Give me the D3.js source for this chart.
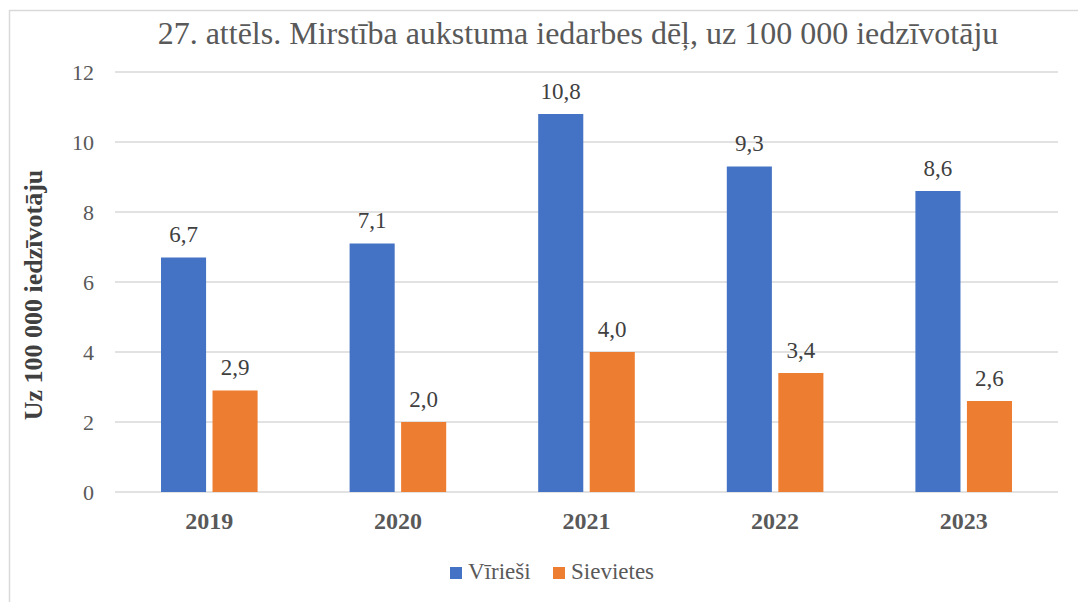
<!DOCTYPE html>
<html>
<head>
<meta charset="utf-8">
<script src="https://cdn.jsdelivr.net/npm/d3@7"></script>
<style>
  body { margin: 0; background: #fff; }
  svg { display: block; }
  text { font-family: "Liberation Serif", "Times New Roman", serif; }
</style>
</head>
<body>
<svg id="chart" width="1078" height="602"></svg>
<script>
const years = ["2019", "2020", "2021", "2022", "2023"];
const series = ["Vīrieši", "Sievietes"];
const men = [6.7, 7.1, 10.8, 9.3, 8.6];
const women = [2.9, 2.0, 4.0, 3.4, 2.6];
const yTicks = [0, 2, 4, 6, 8, 10, 12];
const colors = ["#4472C4", "#ED7D31"];

const svg = d3.select("#chart");
const plot = { left: 115, right: 1058, top: 72, bottom: 492 };

// chart frame (only top and left edges show)
svg.append("rect")
  .attr("x", 9.5).attr("y", 10.5)
  .attr("width", 1200).attr("height", 800)
  .attr("fill", "none").attr("stroke", "#d9d9d9").attr("stroke-width", 1.5);

const x = d3.scaleBand().domain(years).range([plot.left, plot.right]);
const xs = d3.scaleBand().domain(series).range([46, x.bandwidth() - 46]).paddingInner(0.125);
const y = d3.scaleLinear().domain([0, 12]).range([plot.bottom, plot.top]);

// grid lines
svg.append("g")
  .selectAll("line")
  .data(yTicks)
  .join("line")
  .attr("x1", plot.left).attr("x2", plot.right)
  .attr("y1", d => y(d)).attr("y2", d => y(d))
  .attr("stroke", "#d9d9d9").attr("stroke-width", 1.5);

// y tick labels
svg.append("g")
  .selectAll("text")
  .data(yTicks)
  .join("text")
  .attr("x", 94).attr("y", d => y(d) + 8)
  .attr("text-anchor", "end")
  .attr("font-size", 22).attr("fill", "#595959")
  .text(d => d);

const data = years.map((yr, i) => ({ year: yr, values: [men[i], women[i]] }));

const groups = svg.append("g")
  .selectAll("g")
  .data(data)
  .join("g")
  .attr("transform", d => `translate(${x(d.year)},0)`);

groups.selectAll("rect")
  .data(d => d.values.map((v, j) => ({ key: series[j], v, j })))
  .join("rect")
  .attr("x", d => xs(d.key))
  .attr("width", xs.bandwidth())
  .attr("y", d => y(d.v))
  .attr("height", d => y(0) - y(d.v))
  .attr("fill", d => colors[d.j]);

groups.selectAll("text.val")
  .data(d => d.values.map((v, j) => ({ key: series[j], v, j })))
  .join("text")
  .attr("class", "val")
  .attr("x", d => xs(d.key) + xs.bandwidth() / 2)
  .attr("y", d => y(d.v) - 15.5)
  .attr("text-anchor", "middle")
  .attr("font-size", 23).attr("fill", "#404040")
  .text(d => d3.format(".1f")(d.v).replace(".", ","));

// x labels
svg.append("g")
  .selectAll("text")
  .data(years)
  .join("text")
  .attr("x", d => x(d) + x.bandwidth() / 2)
  .attr("y", 529)
  .attr("text-anchor", "middle")
  .attr("font-size", 24).attr("font-weight", "bold").attr("fill", "#595959")
  .text(d => d);

// title
svg.append("text")
  .attr("x", 578).attr("y", 44)
  .attr("text-anchor", "middle")
  .attr("font-size", 32).attr("fill", "#595959")
  .text("27. attēls. Mirstība aukstuma iedarbes dēļ, uz 100 000 iedzīvotāju");

// y axis title
svg.append("text")
  .attr("transform", "translate(42, 295) rotate(-90)")
  .attr("text-anchor", "middle")
  .attr("font-size", 26).attr("font-weight", "bold").attr("fill", "#404040")
  .text("Uz 100 000 iedzīvotāju");

// legend
const legendItems = [{ label: series[0], x: 450 }, { label: series[1], x: 553 }];
const legend = svg.append("g")
  .selectAll("g")
  .data(legendItems)
  .join("g")
  .attr("transform", d => `translate(${d.x}, 567)`);
legend.append("rect")
  .attr("width", 12).attr("height", 12)
  .attr("fill", (d, i) => colors[i]);
legend.append("text")
  .attr("x", 18).attr("y", 12)
  .attr("font-size", 23).attr("fill", "#595959")
  .text(d => d.label);
</script>
</body>
</html>
